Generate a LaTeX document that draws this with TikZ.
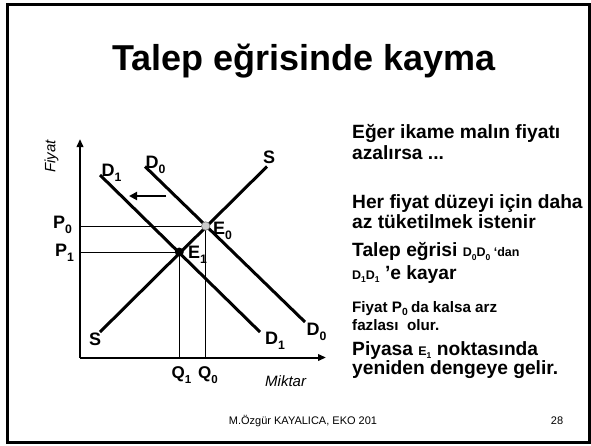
\documentclass[tikz,border=0pt]{standalone}
\usepackage{fontspec}
\usepackage{graphicx}
\setmainfont{Liberation Sans}
\usetikzlibrary{arrows.meta}
\newcommand{\lsub}[1]{\raisebox{-0.3em}{\scalebox{0.68}{#1}}}
\newcommand{\ssub}[1]{\raisebox{-0.22em}{\scalebox{0.68}{#1}}}
\newcommand{\minifont}{\bfseries\fontsize{12.5}{14}\selectfont}
\begin{document}
\begin{tikzpicture}[x=1pt,y=-1pt,
  curve/.style={line width=3pt},
  axis/.style={line width=2pt,-{Triangle[length=8pt,width=6.5pt]}},
  guide/.style={line width=0.7pt},
  lbl/.style={font=\bfseries\fontsize{18}{20}\selectfont,inner sep=0pt,anchor=base west},
  axlbl/.style={font=\itshape\fontsize{15}{17}\selectfont,inner sep=0pt},
  big/.style={font=\bfseries\fontsize{19.2}{22}\selectfont,inner sep=0pt,anchor=base west},
  small/.style={font=\bfseries\fontsize{15.2}{18}\selectfont,inner sep=0pt,anchor=base west}]
\useasboundingbox (0,0) rectangle (591,445);
\draw[line width=3pt] (7.5,4.5) rectangle (589,442);
% title
\node[font=\bfseries\fontsize{36}{40}\selectfont,inner sep=0pt,anchor=base] (title) at (304,70) {Talep eğrisinde kayma};
% axes
\coordinate (O) at (80,357.5);
\coordinate (ytop) at (80,139);
\coordinate (xend) at (326,357.5);
\draw[axis] (O) -- (ytop);
\draw[axis] (O) -- (xend);
\node[axlbl,rotate=90] (fiyat) at (51.5,156.5) {Fiyat};
\node[axlbl,anchor=base west] (miktar) at (265,386.5) {Miktar};
% curves
\coordinate (s1) at (100,332);
\coordinate (s2) at (267,166.5);
\coordinate (d01) at (145,166.5);
\coordinate (d02) at (305,322);
\coordinate (d11) at (100,175);
\coordinate (d12) at (260,332);
\coordinate (E0) at (205.7,226);
\coordinate (E1) at (179.3,252);
\coordinate (P0) at (80,226);
\coordinate (P1) at (80,252);
\coordinate (Q0) at (205.7,357.5);
\coordinate (Q1) at (179.3,357.5);
\draw[guide] (P0) -- (E0) -- (Q0);
\draw[guide] (P1) -- (E1) -- (Q1);
\draw[curve] (s1) -- (s2);
\draw[curve] (d01) -- (d02);
\draw[curve] (d11) -- (d12);
\node[circle,fill=black!20,draw=black!55,line width=0.6pt,minimum size=8.5pt,inner sep=0pt] (e0dot) at (E0) {};
\node[circle,fill=black,minimum size=9pt,inner sep=0pt] (e1dot) at (E1) {};
% shift arrow
\coordinate (a1) at (166,196);
\coordinate (a2) at (129,196);
\draw[line width=2.4pt,-{Triangle[length=8pt,width=8pt]}] (a1) -- (a2);
% labels
\node[lbl] (lD1t) at (101.5,176.5) {D\lsub{1}};
\node[lbl] (lD0t) at (145.5,168.5) {D\lsub{0}};
\node[lbl] (lSt) at (263,163.5) {S};
\node[lbl] (lE0) at (213,234) {E\lsub{0}};
\node[lbl] (lE1) at (188,258) {E\lsub{1}};
\node[lbl] (lP0) at (53,228.5) {P\lsub{0}};
\node[lbl] (lP1) at (55,256.5) {P\lsub{1}};
\node[lbl] (lSb) at (89,345) {S};
\node[lbl] (lD1b) at (265,344) {D\lsub{1}};
\node[lbl] (lD0b) at (306.5,335) {D\lsub{0}};
\node[lbl,font=\bfseries\fontsize{17}{20}\selectfont] (lQ1) at (171.5,378.5) {Q\lsub{1}};
\node[lbl,font=\bfseries\fontsize{17}{20}\selectfont] (lQ0) at (198,378.5) {Q\lsub{0}};
% right text
\node[big] (t1) at (352,138) {Eğer ikame malın fiyatı};
\node[big] (t2) at (352,159) {azalırsa ...};
\node[big] (t3) at (352,208) {Her fiyat düzeyi için daha};
\node[big] (t4) at (352,228.5) {az tüketilmek istenir};
\node[big] (t5) at (352,256.5) {Talep eğrisi {\minifont D\lsub{0}D\lsub{0} ‘dan}};
\node[big] (t6) at (352,279) {{\minifont D\lsub{1}D\lsub{1}} ’e kayar};
\node[small] (t7) at (352,312) {Fiyat P\ssub{0}\kern-1pt\ da kalsa arz};
\node[small] (t8) at (352,330) {fazlası~ olur.};
\node[big] (t9) at (352,355) {Piyasa {\minifont E\lsub{1}} noktasında};
\node[big] (t10) at (352,374.5) {yeniden dengeye gelir.};
% footer
\node[font=\fontsize{11}{13}\selectfont,inner sep=0pt,anchor=base] (foot) at (303,424) {M.Özgür KAYALICA, EKO 201};
\node[font=\fontsize{11}{13}\selectfont,inner sep=0pt,anchor=base] (page) at (557,424) {28};
\end{tikzpicture}
\end{document}
